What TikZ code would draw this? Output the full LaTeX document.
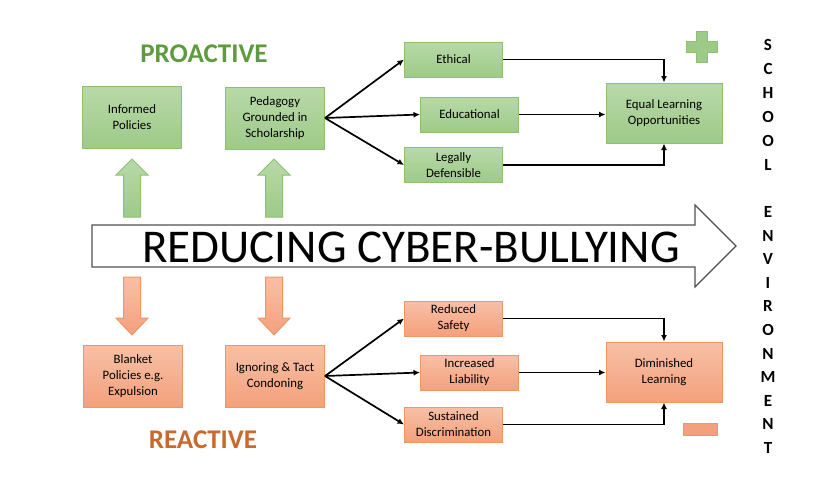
\documentclass[tikz,border=0pt]{standalone}
\usepackage{fontspec}
\setmainfont{Carlito}
\usepackage{tikz}
\usetikzlibrary{arrows.meta,positioning,calc}
\definecolor{procol}{RGB}{94,154,62}
\definecolor{reacol}{RGB}{200,105,46}
\definecolor{protop}{RGB}{184,217,168}
\definecolor{probot}{RGB}{158,202,137}
\definecolor{proedge}{RGB}{141,192,111}
\definecolor{reatop}{RGB}{247,192,166}
\definecolor{reabot}{RGB}{244,160,124}
\definecolor{reaedge}{RGB}{240,150,100}
\definecolor{bannercol}{RGB}{80,80,80}

\begin{document}
\begin{tikzpicture}[x=1pt, y=-1pt,
  pbox/.style={draw=proedge, top color=protop, bottom color=probot, line width=1pt,
               inner sep=0pt, align=center, font=\fontsize{12.8}{16}\selectfont},
  rbox/.style={draw=reaedge, top color=reatop, bottom color=reabot, line width=1pt,
               inner sep=0pt, align=center, font=\fontsize{12.8}{16}\selectfont},
  big/.style={minimum width=99pt, minimum height=62pt},
  small/.style={minimum width=98pt, minimum height=35pt},
  goal/.style={minimum width=116pt, minimum height=60pt},
  head/.style={font=\fontsize{27}{30}\selectfont\bfseries, inner sep=0pt},
  letter/.style={font=\fontsize{17}{18}\selectfont\bfseries, inner sep=0pt},
  arr/.style={-{Latex[length=6.5pt, width=6pt]}, line width=1.7pt}]
  \useasboundingbox (0,0) rectangle (816,480);
  % banner arrow
  \draw[bannercol, fill=white, line width=1.1pt] (92,225) -- (695,225) -- (695,205) -- (736,246)
    -- (695,287) -- (695,267) -- (92,267) -- cycle;
  \node[inner sep=0pt, font=\fontsize{47}{50}\selectfont] (banner) at (411,247) {REDUCING CYBER-BULLYING};
  % proactive side
  \node[head, text=procol] (proactive) at (204,54) {PROACTIVE};
  \node[pbox, big] (inf) at (132,117) {Informed\\Policies};
  \node[pbox, big] (ped) at (275,118) {Pedagogy\\Grounded in\\Scholarship};
  \node[pbox, small] (eth) at (453.5,59.5) {Ethical};
  \node[pbox, small] (edu) at (469.5,114.5) {Educational};
  \node[pbox, small] (leg) at (453.5,165) {Legally\\Defensible};
  \node[pbox, goal] (elo) at (664,113) {Equal Learning\\Opportunities};
  \foreach \x in {132,274}
    \draw[draw=proedge, top color=protop, bottom color=probot, line width=1pt]
      (\x-8.5,217) -- (\x-8.5,175) -- (\x-16,175) -- (\x,159) -- (\x+16,175) -- (\x+8.5,175) -- (\x+8.5,217) -- cycle;
  \draw[arr] (ped.east) -- (eth.west);
  \draw[arr] (ped.east) -- (edu.west);
  \draw[arr] (ped.east) -- (leg.west);
  \draw[arr] (eth.east) -| (elo.north);
  \draw[arr] (edu.east) -- (edu.east -| elo.west);
  \draw[arr] (leg.east) -| (elo.south);
  \draw[draw=proedge, fill=probot, line width=1pt] (696.5,31.5) -- (707.5,31.5) -- (707.5,41.5) -- (717.5,41.5)
    -- (717.5,52.5) -- (707.5,52.5) -- (707.5,62.5) -- (696.5,62.5) -- (696.5,52.5) -- (686.5,52.5)
    -- (686.5,41.5) -- (696.5,41.5) -- cycle;
  % reactive side
  \node[head, text=reacol] (reactive) at (203,440) {REACTIVE};
  \node[rbox, big] (bla) at (133,376) {Blanket\\Policies e.g.\\Expulsion};
  \node[rbox, big] (ign) at (275,376) {Ignoring \& Tact\\Condoning};
  \node[rbox, small] (red) at (453.5,318.5) {Reduced\\Safety};
  \node[rbox, small] (inc) at (469.5,372.5) {Increased\\Liability};
  \node[rbox, small] (sus) at (453.5,424.5) {Sustained\\Discrimination};
  \node[rbox, goal] (dim) at (664,372) {Diminished\\Learning};
  \foreach \x in {132,274}
    \draw[draw=reaedge, top color=reatop, bottom color=reabot, line width=1pt]
      (\x-8.5,277) -- (\x-8.5,318) -- (\x-16,318) -- (\x,335) -- (\x+16,318) -- (\x+8.5,318) -- (\x+8.5,277) -- cycle;
  \draw[arr] (ign.east) -- (red.west);
  \draw[arr] (ign.east) -- (inc.west);
  \draw[arr] (ign.east) -- (sus.west);
  \draw[arr] (red.east) -| (dim.north);
  \draw[arr] (inc.east) -- (inc.east -| dim.west);
  \draw[arr] (sus.east) -| (dim.south);
  \draw[draw=reaedge, fill=reabot, line width=1pt] (683,423) rectangle (717,435);
  % school environment
  \foreach \l [count=\i from 0] in {S,C,H,O,O,L}
    \node[letter] (sc\i) at (768,45+\i*24) {\l};
  \foreach \l [count=\i from 0] in {E,N,V,I,R,O,N,M,E,N,T}
    \node[letter] (en\i) at (768,212+\i*23.6) {\l};
\end{tikzpicture}
\end{document}
